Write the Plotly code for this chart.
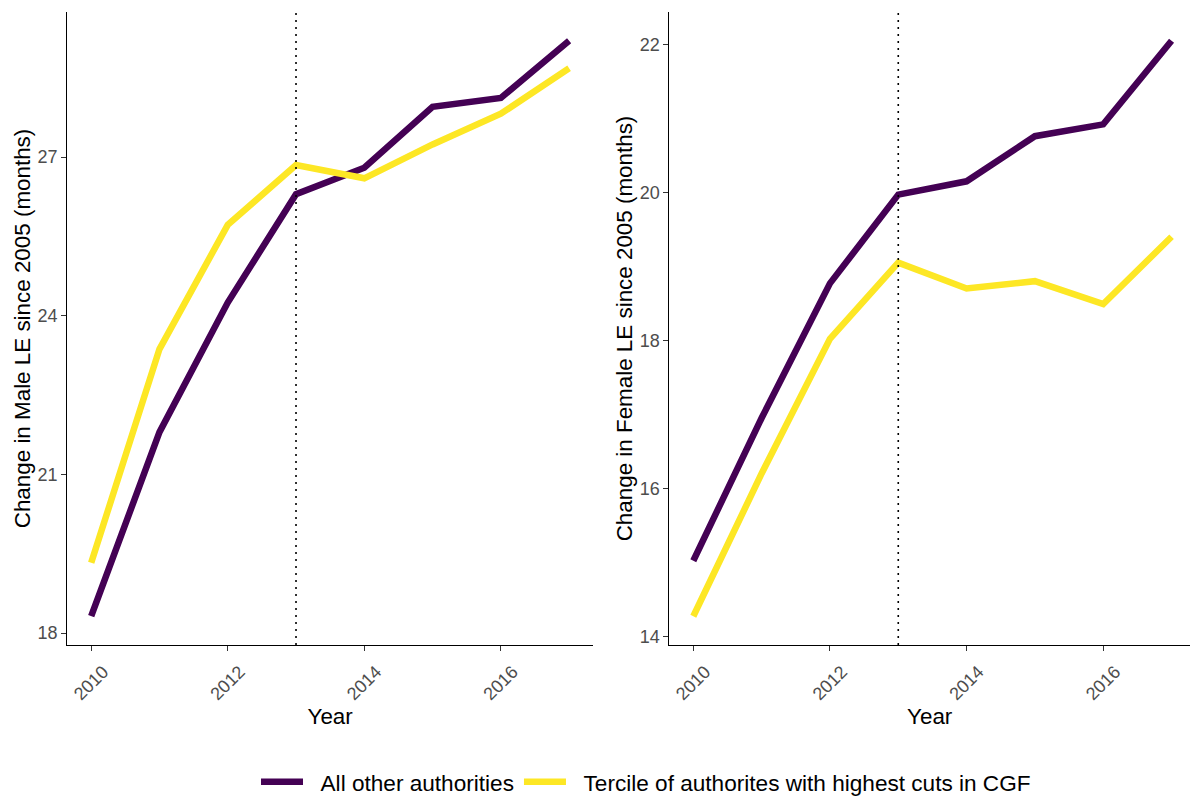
import plotly.graph_objects as go

# Years covered by both panels
years = [2010, 2011, 2012, 2013, 2014, 2015, 2016, 2017]

# Change in male life expectancy since 2005 (months)
male_other = [18.32, 21.8, 24.25, 26.3, 26.8, 27.95, 28.12, 29.2]
male_tercile = [19.33, 23.37, 25.72, 26.85, 26.6, 27.24, 27.82, 28.68]

# Change in female life expectancy since 2005 (months)
female_other = [15.02, 16.95, 18.77, 19.97, 20.15, 20.76, 20.92, 22.05]
female_tercile = [14.27, 16.2, 18.02, 19.05, 18.7, 18.8, 18.49, 19.4]

series_names = ["All other authorities", "Tercile of authorites with highest cuts in CGF"]
series_colors = ["#440154", "#FDE725"]

male_ticks = [18, 21, 24, 27]
female_ticks = [14, 16, 18, 20, 22]
year_ticks = [2010, 2012, 2014, 2016]
policy_year = 2013

W, H = 1190, 796
FONT = "Liberation Sans, Arial, sans-serif"
NBSP = "\u00a0"


def padded(values, frac=0.05):
    lo, hi = min(values), max(values)
    span = hi - lo
    return [lo - frac * span, hi + frac * span]


fig = go.Figure()

panels = [
    ("x", "y", [male_other, male_tercile]),
    ("x2", "y2", [female_other, female_tercile]),
]
for p, (xa, ya, data) in enumerate(panels):
    for i, vals in enumerate(data):
        fig.add_trace(go.Scatter(
            x=years, y=vals, xaxis=xa, yaxis=ya, mode="lines",
            name=NBSP * 2 + series_names[i], legendgroup=series_names[i],
            showlegend=(p == 0),
            line=dict(color=series_colors[i], width=6.5),
        ))

# Dotted reference line at the policy year in each panel
for xr, yr in [("x", "y domain"), ("x2", "y2 domain")]:
    fig.add_shape(type="line", xref=xr, yref=yr, x0=policy_year, x1=policy_year,
                  y0=0, y1=1, line=dict(color="black", width=1.6, dash="2px,5px"))

ydom = [1 - 645 / H, 1 - 12 / H]
axis_common = dict(
    showline=True, linecolor="black", linewidth=1.2, showgrid=False, zeroline=False,
    ticks="outside", ticklen=5, tickwidth=1.1, tickcolor="#333333",
    tickfont=dict(family=FONT, size=18, color="#4D4D4D"), automargin=False,
)
year_axis = dict(tickvals=year_ticks, tickangle=-45, ticklabelshift=12, ticklabelstandoff=3)
title_font = dict(family=FONT, size=22.4, color="black")
xr_left = [years[0] - 0.35, years[-1] + 0.35]
xr_right = [years[0] - 0.35, years[-1] + 0.27]

fig.update_layout(
    width=W, height=H, margin=dict(l=0, r=0, t=0, b=0, autoexpand=False),
    paper_bgcolor="white", plot_bgcolor="white",
    font=dict(family=FONT, color="black"),
    xaxis=dict(domain=[67.3 / W, 593 / W], range=xr_left, anchor="y",
               title=dict(text="Year", font=title_font, standoff=0),
               **year_axis, **axis_common),
    yaxis=dict(domain=ydom, range=padded(male_other + male_tercile), anchor="x",
               tickvals=male_ticks,
               title=dict(text="Change in Male LE since 2005 (months)",
                          font=title_font, standoff=0),
               **axis_common),
    xaxis2=dict(domain=[669.4 / W, 1.0], range=xr_right, anchor="y2",
                title=dict(text="Year", font=title_font, standoff=0),
                **year_axis, **axis_common),
    yaxis2=dict(domain=ydom, range=padded(female_other + female_tercile), anchor="x2",
                tickvals=female_ticks,
                title=dict(text="Change in Female LE since 2005 (months)",
                           font=title_font, standoff=0),
                **axis_common),
    legend=dict(orientation="h", x=0.5 + 51 / W, xanchor="center", y=1 - 782 / H,
                yanchor="middle", font=dict(family=FONT, size=22.6, color="black"),
                itemwidth=42, bgcolor="rgba(0,0,0,0)"),
    showlegend=True,
)

fig.write_html("out.html")
